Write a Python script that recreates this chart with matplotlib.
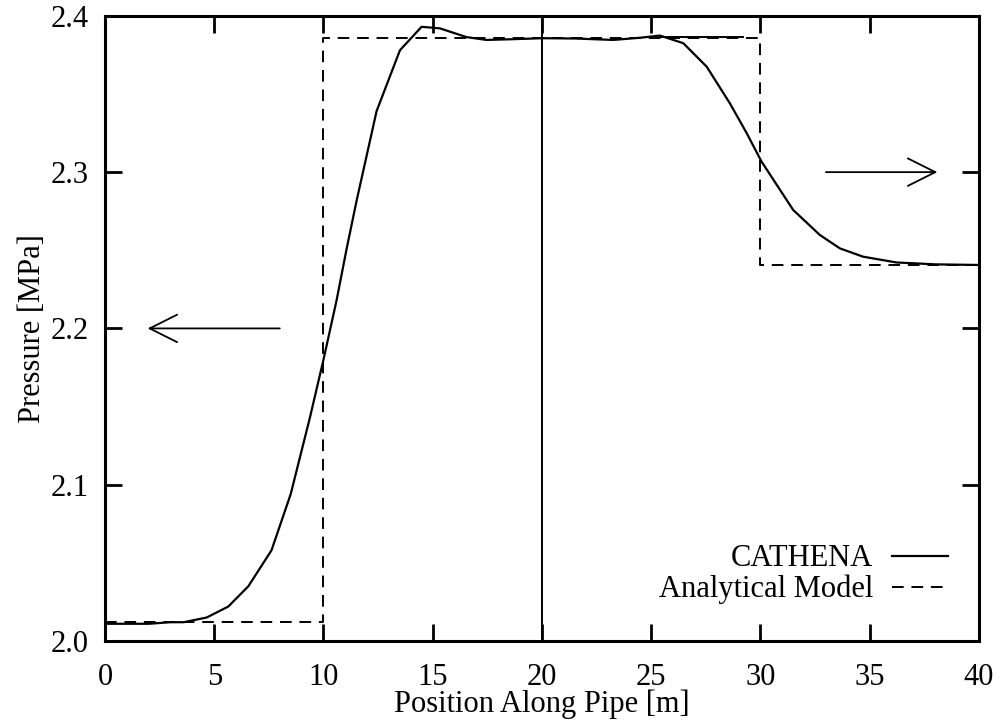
import matplotlib
matplotlib.use("Agg")
import matplotlib.pyplot as plt

plt.rcParams['font.family'] = ['Liberation Serif', 'DejaVu Serif']
plt.rcParams['font.size'] = 22

# CATHENA pressure profile along the pipe
x_cathena = [0, 1, 2, 3, 3.6, 4.65, 5.64, 6.56, 7.62, 8.5, 9.38, 10.0, 10.6,
             11.06, 11.52, 12.43, 13.5, 14.49, 15.33, 16.55, 17.46, 18.5,
             20.06, 21.5, 23.27, 24.5, 25.4, 26.47, 27.54, 28.6, 29.37, 30.05,
             31.5, 32.72, 33.64, 34.7, 36.23, 38.0, 40.0]
p_cathena = [2.011, 2.011, 2.011, 2.012, 2.012, 2.015, 2.022, 2.035, 2.058,
             2.094, 2.143, 2.180, 2.218, 2.251, 2.282, 2.339, 2.378, 2.393,
             2.392, 2.3864, 2.3846, 2.385, 2.3857, 2.3855, 2.3846, 2.386,
             2.3874, 2.3825, 2.3675, 2.3441, 2.325, 2.3068, 2.2758, 2.2598,
             2.2512, 2.2459, 2.2422, 2.241, 2.2406]

# analytical step solution
x_model = [0, 10, 10, 30, 30, 40]
p_model = [2.012, 2.012, 2.386, 2.386, 2.2405, 2.2405]

# plateau segment and front position
x_plateau = [25.4, 29.2]
p_plateau = [2.3864, 2.3864]
x_front = 20

# travel directions of the two waves
arrow_left = ((8.0, 2.2), (1.95, 2.2))
arrow_right = ((33.0, 2.30), (38.1, 2.30))

fig = plt.figure(figsize=(10.05, 7.21), dpi=100)
ax = fig.add_axes([0.1045, 0.111, 0.8695, 0.867])

ax.plot(x_cathena, p_cathena, color='black', lw=1.6, label='CATHENA')
ax.plot(x_model, p_model, color='black', lw=1.4, dashes=(6, 4), label='Analytical Model')
ax.plot(x_plateau, p_plateau, color='black', lw=1.4)
ax.axvline(x_front, color='black', lw=1.4)

for (start, end) in (arrow_left, arrow_right):
    ax.annotate('', xy=end, xytext=start,
                arrowprops=dict(arrowstyle='->,head_length=0.9,head_width=0.45',
                                color='black', lw=1.3, shrinkA=0, shrinkB=0))

ax.set_xlim(0, 40)
ax.set_ylim(2.0, 2.4)
ax.set_xticks([0, 5, 10, 15, 20, 25, 30, 35, 40])
ax.set_yticks([2.0, 2.1, 2.2, 2.3, 2.4])
ax.set_yticklabels(['2.0', '2.1', '2.2', '2.3', '2.4'])
ax.tick_params(direction='in', length=12, width=2, top=True, right=True)
ax.tick_params(axis='x', pad=16)
ax.tick_params(axis='y', pad=12)
for s in ax.spines.values():
    s.set_linewidth(2.2)

ax.set_xlabel('Position Along Pipe [m]', labelpad=-2)
ax.set_ylabel('Pressure [MPa]', labelpad=2)

ax.legend(loc='lower right', bbox_to_anchor=(0.979, 0.039), frameon=False,
          markerfirst=False, handlelength=1.85, handletextpad=0.6,
          labelspacing=0.05, borderaxespad=0, fontsize=22)

fig.savefig('out.png')
